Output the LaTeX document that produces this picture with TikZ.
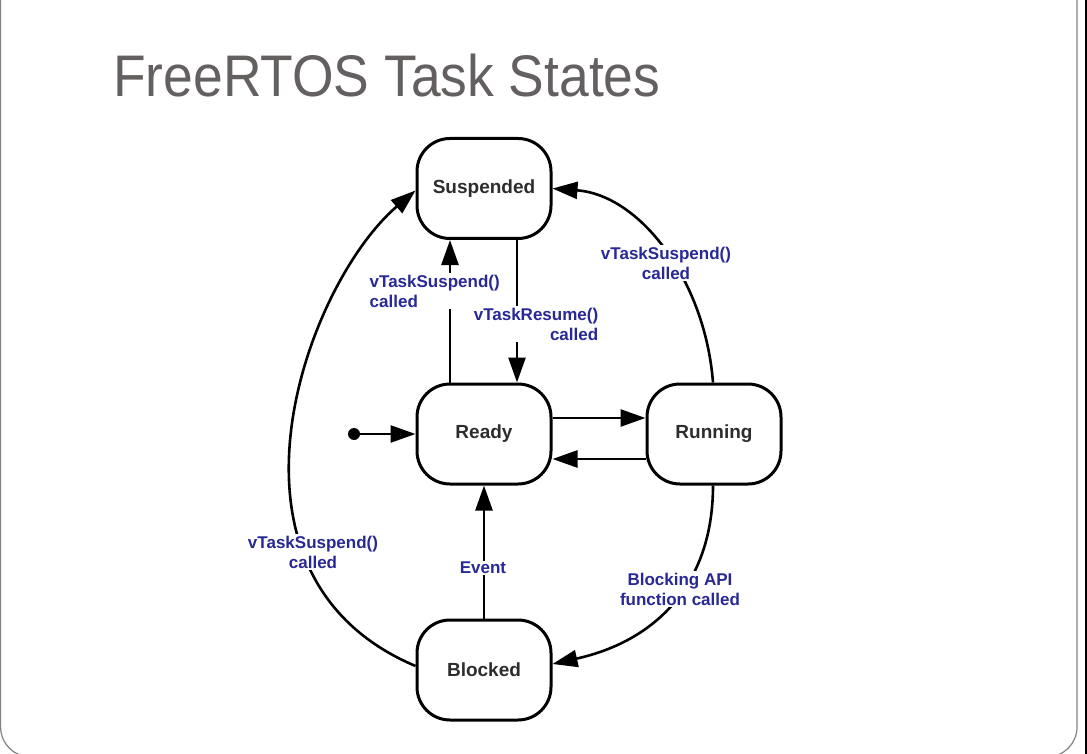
\documentclass[tikz,border=0pt]{standalone}
\usepackage{fontspec}
\setmainfont{Liberation Sans}
\usetikzlibrary{arrows.meta}
\definecolor{titlegray}{RGB}{100,96,96}
\definecolor{lblue}{RGB}{40,40,150}
\definecolor{ntext}{RGB}{45,45,45}
\definecolor{framegray}{RGB}{130,130,130}
\begin{document}
\begin{tikzpicture}[x=1pt,y=-1pt,
  state/.style={draw, line width=3pt, rounded corners=33pt, minimum width=134pt, minimum height=100pt,
    font=\fontsize{19}{21}\selectfont\bfseries, text=ntext, inner sep=0pt},
  lbl/.style={fill=white, text=lblue, font=\fontsize{17}{20}\selectfont\bfseries, inner sep=1.5pt},
  conn/.style={line width=2.6pt, -{Triangle[length=25pt,width=17pt]}}]
\useasboundingbox (0,0) rectangle (1087,754);
\fill[black] (1084.5,0) rectangle (1087,754);
\draw[framegray, line width=1.2pt, rounded corners=30pt] (0.6,-60) rectangle (1077,757);

\node[anchor=base west, text=titlegray, inner sep=0pt] (title) at (113,97)
  {\scalebox{0.91}[1]{\fontsize{58.7}{60}\selectfont FreeRTOS Task States}};

\node[state] (sus) at (484,188.5) {Suspended};
\node[state] (rdy) at (484,434) {Ready};
\node[state] (run) at (714,434) {Running};
\node[state] (blk) at (484,670) {Blocked};
\node[circle, fill=black, inner sep=0pt, minimum size=12pt] (init) at (354,434) {};

\draw[conn] (init) -- (rdy);
\draw[conn] ([xshift=-34pt]rdy.north) -- ([xshift=-34pt]sus.south);
\draw[conn] ([xshift=33pt]sus.south) -- ([xshift=33pt]rdy.north);
\draw[conn] ([yshift=16pt]rdy.east) -- ([yshift=16pt]run.west);
\draw[conn] ([yshift=-25pt]run.west) -- ([yshift=-25pt]rdy.east);
\draw[conn] (blk.north) -- (rdy.south);
\draw[conn] ([xshift=-1pt]run.north) .. controls (705,280) and (640,195) .. (sus.east);
\draw[conn] ([xshift=-1pt]run.south) .. controls (713,580) and (660,640) .. ([yshift=6pt]blk.east);
\draw[conn] ([yshift=4pt]blk.west) .. controls (200,575) and (305,285) .. ([yshift=-2pt]sus.west);

\node[lbl, anchor=west, align=left] (l1) at (368,291) {vTaskSuspend()\\called};
\node[lbl, align=right] (l2) at (536,324) {vTaskResume()\\called};
\node[lbl, align=center] (l3) at (666,263) {vTaskSuspend()\\called};
\node[lbl, align=center] (l4) at (313,552) {vTaskSuspend()\\called};
\node[lbl, align=center] (l5) at (483,568) {Event};
\node[lbl, align=center] (l6) at (680,589) {Blocking API\\function called};
\end{tikzpicture}
\end{document}
